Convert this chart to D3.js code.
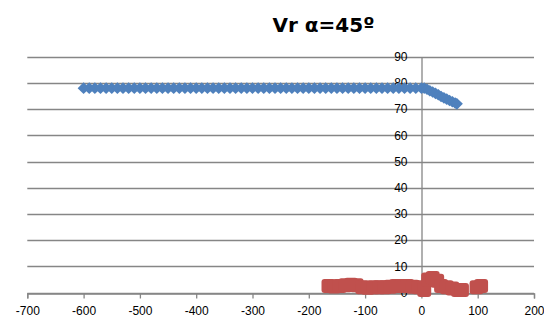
<!DOCTYPE html>
<html><head><meta charset="utf-8">
<script src="https://cdnjs.cloudflare.com/ajax/libs/d3/7.8.5/d3.min.js"></script>
<style>body{margin:0;background:#fff}svg{display:block}</style>
</head><body><svg id="c" width="544" height="320"></svg>
<script>
const title = "Vr α=45º";
const xTicks = [-700,-600,-500,-400,-300,-200,-100,0,100,200];
const yTicks = [0,10,20,30,40,50,60,70,80,90];
const blueX = [-600,-590,-580,-570,-560,-550,-540,-530,-520,-510,-500,-490,-480,-470,-460,-450,-440,-430,-420,-410,-400,-390,-380,-370,-360,-350,-340,-330,-320,-310,-300,-290,-280,-270,-260,-250,-240,-230,-220,-210,-200,-190,-180,-170,-160,-150,-140,-130,-120,-110,-100,-90,-80,-70,-60,-50,-40,-30,-20,-10,0,5,10,15,20,25,30,35,40,45,50,55,60,63];
const blueY = [78,78,78,78,78,78,78,78,78,78,78,78,78,78,78,78,78,78,78,78,78,78,78,78,78,78,78,78,78,78,78,78,78,78,78,78,78,78,78,78,78,78,78,78,78,78,78,78,78,78,78,78,78,78,78,78,78,78,78,78,78,78,77.6,77,76.5,76,75.5,74.8,74.3,73.8,73.3,72.8,72.3,72];
const redX = [-165,-155,-145,-135,-125,-115,-105,-95,-85,-75,-65,-55,-45,-35,-25,-15,-5,5,12,20,28,35,45,55,65,72,98,106];
const redY = [2.5,2.3,2.5,2.8,3,2.8,2,1.8,2,2,2,2.2,2.5,2.5,2.5,2.2,2,1,5,5.5,4.5,2.5,2,1.5,1,1,2,2.5];

const svg = d3.select("#c");
const x = d3.scaleLinear().domain([-700,200]).range([27.3,534]);
const y = d3.scaleLinear().domain([0,90]).range([292.5,56.7]);
const grid = "#868686";
const font = "'Liberation Sans',Arial,sans-serif";
const fmt = d => String(d);

// gridlines
svg.append("g").selectAll("line").data(yTicks).join("line")
  .attr("x1",x(-700)).attr("x2",x(200))
  .attr("y1",d=>Math.round(y(d))+0.5).attr("y2",d=>Math.round(y(d))+0.5)
  .attr("stroke",grid).attr("stroke-width",1.3);

// x axis
const xa = svg.append("g").attr("transform",`translate(0,${Math.round(y(0))+0.5})`)
  .call(d3.axisBottom(x).tickValues(xTicks).tickSize(5).tickPadding(8).tickFormat(fmt));
xa.select(".domain").attr("stroke",grid).attr("stroke-width",1.3);
xa.selectAll(".tick line").attr("stroke",grid).attr("stroke-width",1.3);
xa.selectAll("text").attr("font-family",font).attr("font-size",12).attr("fill","#000");

// y axis at x=0
const ya = svg.append("g").attr("transform",`translate(${Math.round(x(0))+0.5},0)`)
  .call(d3.axisLeft(y).tickValues(yTicks).tickSize(0).tickPadding(14).tickFormat(fmt));
ya.select(".domain").attr("stroke",grid).attr("stroke-width",1.3);
ya.selectAll("text").attr("font-family",font).attr("font-size",12).attr("fill","#000");

// blue series (diamonds)
svg.append("g").selectAll("path").data(blueX.map((v,i)=>[v,blueY[i]])).join("path")
  .attr("d","M0,-5.8L6,0L0,5.8L-6,0Z")
  .attr("transform",d=>`translate(${x(d[0])},${y(d[1])})`)
  .attr("fill","#4F81BD");

// red series (squares)
svg.append("g").selectAll("rect").data(redX.map((v,i)=>[v,redY[i]])).join("rect")
  .attr("x",d=>x(d[0])-7).attr("y",d=>y(d[1])-7)
  .attr("width",14).attr("height",14).attr("rx",3)
  .attr("fill","#C0504D");

svg.append("text").attr("x",323.5).attr("y",32).attr("text-anchor","middle")
  .attr("font-family","'DejaVu Sans',sans-serif").attr("font-weight","bold")
  .attr("font-size",20).attr("fill","#000").text(title);
</script></body></html>
